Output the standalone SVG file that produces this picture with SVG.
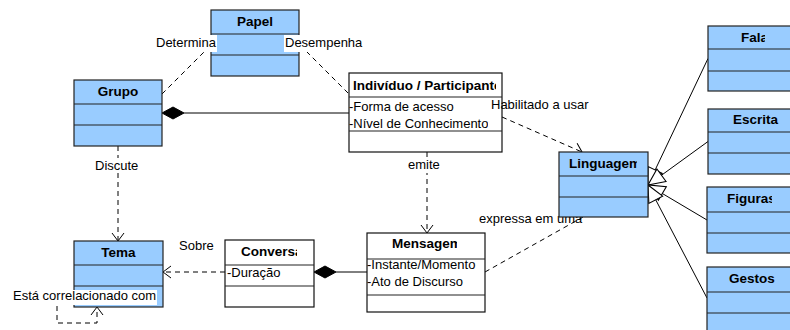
<svg xmlns="http://www.w3.org/2000/svg" width="790" height="330" viewBox="0 0 790 330">
<style>
.bx{fill:#99ccff;stroke:#222;stroke-width:1.2}
.wb{fill:#ffffff;stroke:#111;stroke-width:1.2}
.sep{stroke:#222;stroke-width:1.2}
.t{font-family:"Liberation Sans",Arial,sans-serif;font-size:13.5px;font-weight:bold;fill:#000;text-anchor:middle}
.a{font-family:"Liberation Sans",Arial,sans-serif;font-size:13px;fill:#000}
.lb{font-family:"Liberation Sans",Arial,sans-serif;font-size:13px;fill:#000}
.dash{fill:none;stroke:#000;stroke-width:1;stroke-dasharray:5 4}
.solid{fill:none;stroke:#000;stroke-width:1}
.bg{fill:#ffffff}
</style>
<defs>
<marker id="open" markerUnits="userSpaceOnUse" markerWidth="16" markerHeight="16" refX="9" refY="7" orient="auto" viewBox="0 0 16 14">
<path d="M1,1 L9,7 L1,13" fill="none" stroke="#000" stroke-width="1"/>
</marker>
<marker id="tri" markerUnits="userSpaceOnUse" markerWidth="20" markerHeight="20" refX="16" refY="8" orient="auto" viewBox="0 0 18 16">
<path d="M1,1 L16,8 L1,15 Z" fill="#ffffff" stroke="#000" stroke-width="1"/>
</marker>
<clipPath id="cInd"><rect x="349" y="73" width="147" height="24"/></clipPath>
<clipPath id="cNiv"><rect x="349" y="97" width="139" height="34"/></clipPath>
<clipPath id="cLin"><rect x="559" y="152" width="78" height="24"/></clipPath>
<clipPath id="cMen"><rect x="367" y="233" width="90" height="26"/></clipPath>
<clipPath id="cInst"><rect x="367" y="259" width="111" height="36"/></clipPath>
<clipPath id="cCon"><rect x="225" y="240" width="72" height="25"/></clipPath>
<clipPath id="cDur"><rect x="225" y="265" width="58" height="21"/></clipPath>
<clipPath id="cFal"><rect x="708" y="26" width="57" height="23"/></clipPath>
<clipPath id="cFig"><rect x="707" y="187" width="65" height="25"/></clipPath>
</defs>

<g id="connectors">
<line class="dash" x1="162" y1="94" x2="211" y2="45"/>
<line class="dash" x1="300" y1="45" x2="349" y2="94"/>
<line class="solid" x1="184" y1="113" x2="349" y2="113"/>
<path d="M162,113 L173,107 L184,113 L173,119 Z" fill="#000" stroke="#000" stroke-width="1"/>
<line class="dash" x1="502" y1="117" x2="582" y2="152" marker-end="url(#open)"/>
<line class="dash" x1="427" y1="152" x2="427" y2="233" marker-end="url(#open)"/>
<line class="dash" x1="485" y1="272" x2="583" y2="217"/>
<line class="dash" x1="118" y1="146" x2="118" y2="241" marker-end="url(#open)"/>
<line class="dash" x1="225" y1="272" x2="163" y2="272" marker-end="url(#open)"/>
<line class="solid" x1="336" y1="272" x2="367" y2="272"/>
<path d="M314,272 L325,266 L336,272 L325,278 Z" fill="#000" stroke="#000" stroke-width="1"/>
<path class="dash" d="M74,296 L57,296 L57,323 L97,323 L97,307" marker-end="url(#open)"/>
<line class="solid" x1="708" y1="58.5" x2="648" y2="185" marker-end="url(#tri)"/>
<line class="solid" x1="708" y1="141.5" x2="648" y2="185" marker-end="url(#tri)"/>
<line class="solid" x1="707" y1="220" x2="648" y2="185" marker-end="url(#tri)"/>
<line class="solid" x1="707" y1="298" x2="648" y2="185" marker-end="url(#tri)"/>
<text class="lb" x="479" y="223">expressa em uma</text>
</g>

<g id="node-papel">
<rect class="bx" x="211" y="10" width="88" height="66"/>
<line class="sep" x1="211" y1="34" x2="299" y2="34"/>
<line class="sep" x1="211" y1="55" x2="299" y2="55"/>
<text class="t" x="255" y="26">Papel</text>
</g>

<g id="node-grupo">
<rect class="bx" x="74" y="80" width="88" height="66"/>
<line class="sep" x1="74" y1="104" x2="162" y2="104"/>
<line class="sep" x1="74" y1="125" x2="162" y2="125"/>
<text class="t" x="118" y="96">Grupo</text>
</g>

<g id="node-individuo">
<rect class="wb" x="349" y="73" width="153" height="79"/>
<line class="sep" x1="349" y1="97" x2="502" y2="97"/>
<line class="sep" x1="349" y1="131" x2="502" y2="131"/>
<text class="t" x="353" y="90" style="text-anchor:start" clip-path="url(#cInd)">Indivíduo / Participante</text>
<text class="a" x="349" y="111">-Forma de acesso</text>
<text class="a" x="349" y="128" clip-path="url(#cNiv)">-Nível de Conhecimento</text>
</g>

<g id="node-linguagem">
<rect class="bx" x="559" y="152" width="89" height="65"/>
<line class="sep" x1="559" y1="176" x2="648" y2="176"/>
<line class="sep" x1="559" y1="197" x2="648" y2="197"/>
<text class="t" x="569" y="168" style="text-anchor:start" clip-path="url(#cLin)">Linguagem</text>
</g>

<g id="node-mensagem">
<rect class="wb" x="367" y="233" width="118" height="79"/>
<line class="sep" x1="367" y1="259" x2="485" y2="259"/>
<line class="sep" x1="367" y1="295" x2="485" y2="295"/>
<text class="t" x="392" y="248" style="text-anchor:start" clip-path="url(#cMen)">Mensagem</text>
<text class="a" x="367" y="269" clip-path="url(#cInst)">-Instante/Momento</text>
<text class="a" x="367" y="286">-Ato de Discurso</text>
</g>

<g id="node-conversa">
<rect class="wb" x="225" y="240" width="89" height="67"/>
<line class="sep" x1="225" y1="265" x2="314" y2="265"/>
<line class="sep" x1="225" y1="286" x2="314" y2="286"/>
<text class="t" x="241" y="256" style="text-anchor:start" clip-path="url(#cCon)">Conversa</text>
<text class="a" x="227" y="277" clip-path="url(#cDur)">-Duração</text>
</g>

<g id="node-tema">
<rect class="bx" x="74" y="241" width="89" height="66"/>
<line class="sep" x1="74" y1="265" x2="163" y2="265"/>
<line class="sep" x1="74" y1="286" x2="163" y2="286"/>
<text class="t" x="118.5" y="257">Tema</text>
</g>

<g id="node-fala">
<rect class="bx" x="708" y="26" width="88" height="65"/>
<line class="sep" x1="708" y1="49" x2="796" y2="49"/>
<line class="sep" x1="708" y1="71" x2="796" y2="71"/>
<text class="t" x="741" y="42" style="text-anchor:start" clip-path="url(#cFal)">Fala</text>
</g>

<g id="node-escrita">
<rect class="bx" x="708" y="109" width="88" height="65"/>
<line class="sep" x1="708" y1="132" x2="796" y2="132"/>
<line class="sep" x1="708" y1="153" x2="796" y2="153"/>
<text class="t" x="733" y="124" style="text-anchor:start">Escrita</text>
</g>

<g id="node-figuras">
<rect class="bx" x="707" y="187" width="89" height="66"/>
<line class="sep" x1="707" y1="212" x2="796" y2="212"/>
<line class="sep" x1="707" y1="233" x2="796" y2="233"/>
<text class="t" x="727" y="203" style="text-anchor:start" clip-path="url(#cFig)">Figuras</text>
</g>

<g id="node-gestos">
<rect class="bx" x="707" y="267" width="89" height="66"/>
<line class="sep" x1="707" y1="292" x2="796" y2="292"/>
<line class="sep" x1="707" y1="313" x2="796" y2="313"/>
<text class="t" x="729" y="283" style="text-anchor:start">Gestos</text>
</g>

<g id="connector-labels">
<rect class="bg" x="155" y="35" width="62" height="17"/>
<text class="lb" x="156" y="47">Determina</text>
<rect class="bg" x="284" y="35" width="81" height="17"/>
<text class="lb" x="285" y="47">Desempenha</text>
<text class="lb" x="491" y="109">Habilitado a usar</text>
<rect class="bg" x="407" y="157" width="37" height="16"/>
<text class="lb" x="408" y="169">emite</text>
<rect class="bg" x="94" y="158" width="45" height="15"/>
<text class="lb" x="95" y="170">Discute</text>
<text class="lb" x="179" y="250">Sobre</text>
<rect class="bg" x="12" y="290" width="145" height="15"/>
<text class="lb" x="13" y="300">Está correlacionado com</text>
</g>
</svg>
